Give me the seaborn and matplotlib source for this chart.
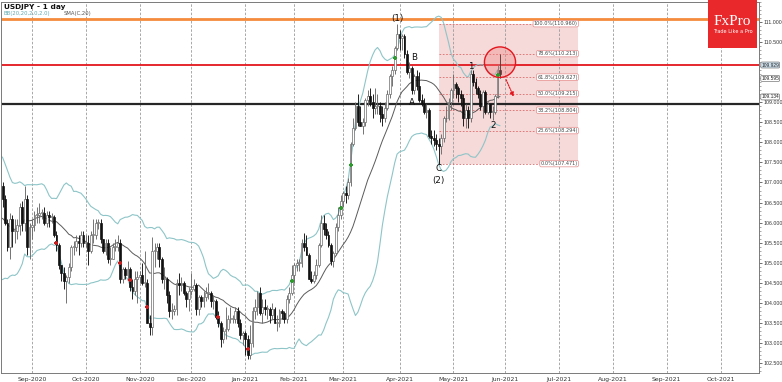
import numpy as np
import pandas as pd
import matplotlib
matplotlib.use("Agg")
import matplotlib.pyplot as plt
import seaborn as sns
from matplotlib.patches import Rectangle, Ellipse
from matplotlib.ticker import MultipleLocator

# ---------------- data ----------------
title_text = "USDJPY - 1 day"
bb_label = "BB(20,20,2.0,2.0)"
sma_label = "SMA(C,20)"
start_date = "2020-07-15"
end_date = "2021-05-28"
holidays = ["2020-12-25", "2021-01-01"]

opens = [
    # Jul 2020
    107.25, 106.95, 107.25, 107.00, 107.25, 107.20, 107.15, 106.85, 106.10, 105.40, 105.05, 105.00, 104.70,
    # Aug
    105.85, 105.95, 105.70, 105.55, 105.55, 105.90, 105.95, 106.50, 106.90, 106.90, 106.60, 106.00, 105.40, 106.10, 105.80, 105.80, 105.95, 106.40, 106.00, 106.60, 105.40,
    # Sep
    105.90, 105.95, 106.20, 106.20, 106.25, 106.25, 106.00, 106.20, 106.15, 106.15, 105.70, 105.45, 104.95, 104.75, 104.55, 104.65, 104.90, 105.40, 105.40, 105.55, 105.50, 105.70,
    # Oct
    105.50, 105.50, 105.30, 105.70, 105.70, 106.00, 106.00, 105.60, 105.30, 105.50, 105.10, 105.10, 105.40, 105.40, 105.50, 104.60, 104.85, 104.70, 104.85, 104.40, 104.30, 104.60,
    # Nov
    104.65, 104.70, 104.50, 104.50, 103.50, 103.40, 105.30, 105.30, 105.40, 105.10, 104.60, 104.60, 104.20, 103.80, 103.80, 103.85, 104.50, 104.45, 104.50, 104.25, 104.10,
    # Dec
    104.30, 104.35, 104.45, 103.85, 104.15, 104.05, 104.15, 104.25, 104.25, 104.05, 104.05, 103.65, 103.50, 103.10, 103.30, 103.35, 103.60, 103.60, 103.60, 103.80, 103.50, 103.20,
    # Jan 2021
    103.25, 103.10, 102.70, 103.00, 103.80, 103.90, 104.25, 103.75, 103.90, 103.85, 103.85, 103.70, 103.85, 103.50, 103.50, 103.80, 103.75, 103.60, 104.10, 104.25,
    # Feb
    104.70, 104.95, 105.00, 105.00, 105.50, 105.40, 105.20, 104.60, 104.55, 104.70, 104.95, 105.45, 106.00, 105.85, 105.70, 105.45, 105.05, 105.25, 105.90, 106.20,
    # Mar
    106.55, 106.75, 106.70, 107.00, 107.95, 108.35, 108.90, 108.50, 108.40, 108.50, 109.05, 109.15, 109.00, 108.85, 108.90, 108.90, 108.70, 108.60, 108.85, 109.20, 109.65, 109.80, 110.35,
    # Apr
    110.70, 110.60, 110.65, 110.20, 109.75, 109.85, 109.30, 109.65, 109.40, 109.05, 108.95, 108.75, 108.80, 108.15, 108.10, 108.05, 107.95, 107.90, 108.10, 108.60, 108.60, 109.00,
    # May
    109.30, 109.45, 109.35, 109.20, 109.10, 108.60, 108.80, 108.60, 109.70, 109.50, 109.35, 109.20, 108.90, 109.25, 108.75, 108.95, 108.75, 108.75, 109.15, 109.80,
]
highs = [
    107.30, 107.30, 107.40, 107.30, 107.40, 107.30, 107.20, 106.95, 106.20, 105.50, 105.20, 105.10, 105.90,
    106.50, 106.10, 105.80, 105.70, 106.00, 106.10, 106.60, 107.05, 107.05, 107.00, 106.70, 106.10, 106.25, 106.20, 106.10, 106.10, 106.50, 106.55, 106.90, 106.70, 106.00,
    106.10, 106.30, 106.40, 106.50, 106.35, 106.40, 106.30, 106.30, 106.25, 106.20, 105.80, 105.50, 104.95, 104.90, 104.70, 105.00, 105.45, 105.55, 105.70, 105.70, 105.80, 105.80,
    105.70, 105.70, 105.80, 106.10, 106.10, 106.10, 106.10, 105.60, 105.60, 105.60, 105.40, 105.50, 105.60, 105.70, 105.60, 104.90, 104.90, 105.05, 104.90, 104.60, 104.80, 104.80,
    104.80, 105.00, 105.30, 104.60, 103.70, 105.65, 105.50, 105.50, 105.50, 105.15, 104.90, 104.65, 104.30, 104.00, 103.95, 104.60, 104.75, 104.65, 104.55, 104.30, 104.40,
    104.75, 104.60, 104.50, 104.20, 104.20, 104.30, 104.40, 104.50, 104.30, 104.20, 104.10, 103.80, 103.55, 103.40, 103.90, 103.70, 103.90, 103.70, 103.90, 103.90, 103.60, 103.30,
    103.30, 103.20, 103.45, 103.90, 104.10, 104.30, 104.40, 104.10, 104.10, 103.95, 103.90, 104.00, 103.90, 103.70, 103.85, 103.85, 103.80, 104.20, 104.40, 104.95,
    105.00, 105.10, 105.10, 105.60, 105.75, 105.70, 105.25, 104.80, 104.80, 105.10, 105.50, 106.20, 106.20, 106.00, 105.80, 105.50, 105.30, 106.00, 106.40, 106.70,
    106.80, 106.90, 107.10, 108.00, 108.60, 109.00, 109.20, 108.90, 108.60, 109.10, 109.30, 109.35, 109.20, 109.35, 109.20, 109.00, 108.90, 109.00, 109.30, 109.70, 109.90, 110.40, 110.96,
    110.80, 110.70, 110.70, 110.30, 110.00, 109.90, 109.70, 109.80, 109.75, 109.20, 109.10, 108.95, 108.85, 108.30, 108.30, 108.20, 108.10, 108.20, 108.65, 108.90, 109.10, 109.35,
    109.70, 109.50, 109.40, 109.30, 109.20, 108.95, 108.90, 109.80, 109.80, 109.60, 109.40, 109.30, 109.30, 109.30, 109.00, 108.95, 108.90, 109.20, 109.95, 110.20,
]
lows = [
    106.70, 106.80, 106.90, 106.90, 106.95, 106.85, 106.70, 105.70, 105.20, 104.95, 104.80, 104.40, 104.20,
    105.60, 105.50, 105.30, 105.30, 105.40, 105.70, 105.80, 106.40, 106.70, 106.40, 105.95, 105.30, 105.10, 105.40, 105.50, 105.60, 105.70, 105.80, 105.80, 105.20, 105.10,
    105.60, 105.80, 106.00, 106.00, 106.10, 105.95, 105.90, 105.90, 106.00, 105.65, 105.30, 104.85, 104.55, 104.35, 104.00, 104.50, 104.80, 105.20, 105.30, 105.20, 105.40, 105.40,
    105.40, 104.95, 105.25, 105.50, 105.60, 105.85, 105.50, 105.25, 105.20, 105.00, 104.95, 105.10, 105.30, 105.30, 104.50, 104.50, 104.60, 104.60, 104.30, 104.10, 104.20, 104.00,
    104.50, 104.45, 104.40, 103.50, 103.20, 103.20, 104.90, 105.10, 104.90, 104.50, 104.35, 104.00, 103.65, 103.60, 103.70, 103.70, 104.20, 104.30, 104.20, 103.90, 103.80,
    104.20, 104.30, 103.70, 103.70, 103.90, 103.90, 104.05, 104.10, 103.90, 103.85, 103.60, 103.40, 102.90, 103.00, 103.10, 103.30, 103.50, 103.50, 103.50, 103.40, 103.10, 102.95,
    102.70, 102.60, 102.60, 102.90, 103.60, 103.70, 103.70, 103.50, 103.70, 103.60, 103.50, 103.60, 103.50, 103.30, 103.40, 103.60, 103.50, 103.50, 104.00, 104.20,
    104.50, 104.80, 104.80, 104.90, 105.30, 105.20, 104.60, 104.50, 104.50, 104.60, 104.90, 105.40, 105.70, 105.60, 105.40, 104.95, 104.90, 105.20, 105.80, 106.10,
    106.40, 106.50, 106.60, 106.90, 107.90, 108.30, 108.40, 108.40, 108.20, 108.40, 108.90, 108.90, 108.60, 108.70, 108.70, 108.50, 108.40, 108.50, 108.80, 109.10, 109.40, 109.70, 110.30,
    110.30, 110.30, 110.10, 109.70, 109.60, 109.20, 109.20, 109.30, 109.00, 108.90, 108.70, 108.60, 108.10, 107.95, 107.90, 107.80, 107.471, 107.70, 108.00, 108.50, 108.55, 108.80,
    109.10, 109.10, 109.00, 108.90, 108.40, 108.35, 108.35, 108.50, 109.40, 109.20, 109.10, 108.80, 108.60, 108.70, 108.70, 108.60, 108.55, 108.70, 109.10, 109.60,
]
closes = [
    106.95, 107.25, 107.00, 107.25, 107.20, 107.15, 106.85, 106.10, 105.40, 105.05, 105.00, 104.70, 105.85,
    105.95, 105.70, 105.55, 105.55, 105.90, 105.95, 106.50, 106.90, 106.90, 106.60, 106.00, 105.40, 106.10, 105.80, 105.80, 105.95, 106.40, 106.00, 106.60, 105.40, 105.90,
    105.95, 106.20, 106.20, 106.25, 106.25, 106.00, 106.20, 106.15, 106.15, 105.70, 105.45, 104.95, 104.75, 104.55, 104.65, 104.90, 105.40, 105.40, 105.55, 105.50, 105.70, 105.50,
    105.50, 105.30, 105.70, 105.70, 106.00, 106.00, 105.60, 105.30, 105.50, 105.10, 105.10, 105.40, 105.40, 105.50, 104.60, 104.85, 104.70, 104.85, 104.40, 104.30, 104.60, 104.65,
    104.70, 104.50, 104.50, 103.50, 103.40, 105.30, 105.30, 105.40, 105.10, 104.60, 104.60, 104.20, 103.80, 103.80, 103.85, 104.50, 104.45, 104.50, 104.25, 104.10, 104.30,
    104.35, 104.45, 103.85, 104.15, 104.05, 104.15, 104.25, 104.25, 104.05, 104.05, 103.65, 103.50, 103.10, 103.30, 103.35, 103.60, 103.60, 103.60, 103.80, 103.50, 103.20, 103.25,
    103.10, 102.70, 103.00, 103.80, 103.90, 104.25, 103.75, 103.90, 103.85, 103.85, 103.70, 103.85, 103.50, 103.50, 103.80, 103.75, 103.60, 104.10, 104.25, 104.70,
    104.95, 105.00, 105.00, 105.50, 105.40, 105.20, 104.60, 104.55, 104.70, 104.95, 105.45, 106.00, 105.85, 105.70, 105.45, 105.05, 105.25, 105.90, 106.20, 106.55,
    106.75, 106.70, 107.00, 107.95, 108.35, 108.90, 108.50, 108.40, 108.50, 109.05, 109.15, 109.00, 108.85, 108.90, 108.90, 108.70, 108.60, 108.85, 109.20, 109.65, 109.80, 110.35, 110.70,
    110.60, 110.65, 110.20, 109.75, 109.85, 109.30, 109.65, 109.40, 109.05, 108.95, 108.75, 108.80, 108.15, 108.10, 108.05, 107.95, 107.90, 108.10, 108.60, 108.60, 109.00, 109.30,
    109.45, 109.35, 109.20, 109.10, 108.60, 108.80, 108.60, 109.70, 109.50, 109.35, 109.20, 108.90, 109.25, 108.75, 108.95, 108.75, 108.75, 109.15, 109.80, 109.70,
]

# horizontal levels and annotations
orange_level = 111.07
red_level = 109.929
black_level = 108.955
axis_markers = [109.929, 109.595, 109.134]
fib_ratios = [1.0, 0.786, 0.618, 0.5, 0.382, 0.236, 0.0]
fib_start_date = "2021-04-23"
fib_end_date = "2021-07-13"
wave_texts = ["(1)", "B", "A", "C", "(2)", "1", "2"]
wave_dates = ["2021-03-31", "2021-04-09", "2021-04-08", "2021-04-23", "2021-04-23", "2021-05-12", "2021-05-25"]
wave_prices = [111.10, 110.12, 109.00, 107.36, 107.06, 109.90, 108.42]
buy_dates = ["2021-01-29", "2021-02-26", "2021-03-04", "2021-03-30", "2021-05-27"]
buy_prices = [104.55, 106.36, 107.43, 110.10, 109.68]
sell_dates = ["2020-09-15", "2020-10-21", "2020-10-27", "2020-11-05", "2020-12-16", "2021-01-05"]
sell_prices = [105.49, 104.99, 104.57, 103.89, 103.64, 102.85]
circle_date = "2021-05-28"
circle_price = 110.0
arrow_dates = ["2021-06-01", "2021-06-07"]
arrow_prices = [109.63, 109.08]
view_dates = ["2020-08-13", "2021-10-22"]
tick_months = pd.date_range("2020-09-01", "2021-10-01", freq="MS")

# ---------------- build ----------------
dates = pd.bdate_range(start_date, end_date, freq="C", holidays=holidays)
n = min(len(dates), len(opens), len(highs), len(lows), len(closes))
dates = dates[:n]
o = np.array(opens[:n]); h = np.array(highs[:n]); l = np.array(lows[:n]); c = np.array(closes[:n])
future = pd.bdate_range("2021-05-31", "2021-12-31")
cal = dates.append(future)

def pos(d):
    return int(cal.searchsorted(pd.Timestamp(d)))

x = np.arange(n)
df = pd.DataFrame({"x": x, "close": c})
df["sma"] = df["close"].rolling(20).mean()
sd = df["close"].rolling(20).std(ddof=0)
df["upper"] = df["sma"] + 2 * sd
df["lower"] = df["sma"] - 2 * sd

sns.set_theme(style="white")
plt.rcParams["font.family"] = ["DejaVu Sans"]
narrow = ["Liberation Sans", "DejaVu Sans"]

fig = plt.figure(figsize=(7.82, 3.82), dpi=100)
ax = fig.add_axes([1 / 782, 9 / 382, 758 / 782, 371 / 382])
ax.set_facecolor("white")

# Fibonacci box
fs, fe = pos(fib_start_date), pos(fib_end_date)
fib_hi = h.max()
fib_lo = l[fs:].min()
ax.add_patch(Rectangle((fs, fib_lo), fe - fs, fib_hi - fib_lo, facecolor="#f6d9d9",
                       edgecolor="none", zorder=0.5))
for r in fib_ratios:
    lvl = fib_lo + r * (fib_hi - fib_lo)
    ax.plot([fs, fe], [lvl, lvl], color="#e06868", lw=0.6, ls=(0, (2, 2)), zorder=0.8)
    ax.text(fe - 0.3, lvl, f"{r*100:.1f}%({lvl:.3f})", fontsize=3.6, ha="right", va="center",
            color="#444444", zorder=6,
            bbox=dict(boxstyle="round,pad=0.15,rounding_size=0.3", fc="white", ec="#e58b8b", lw=0.5))

# month grid
tick_pos = [pos(d) for d in tick_months]
for tp in tick_pos:
    ax.axvline(tp, color="#9a9a9a", lw=0.6, ls=(0, (3, 2)), zorder=0.7)

# horizontal levels
ax.axhline(orange_level, color="#f58b3c", lw=2.0, zorder=2)
ax.axhline(red_level, color="#e3161d", lw=1.3, zorder=2)
ax.axhline(black_level, color="#262626", lw=1.6, zorder=2)

# Bollinger bands + SMA
sns.lineplot(data=df, x="x", y="upper", ax=ax, color="#8ec5c8", lw=0.8, zorder=2.5)
sns.lineplot(data=df, x="x", y="lower", ax=ax, color="#8ec5c8", lw=0.8, zorder=2.5)
sns.lineplot(data=df, x="x", y="sma", ax=ax, color="#5a5a5a", lw=0.7, zorder=2.5)

# candles
up = c >= o
body_lo = np.minimum(o, c)
body_h = np.maximum(np.abs(c - o), 0.02)
ax.vlines(x[up], l[up], h[up], color="#6a6a6a", lw=0.65, zorder=3)
ax.vlines(x[~up], l[~up], h[~up], color="#111111", lw=0.65, zorder=3)
ax.bar(x[up], body_h[up], bottom=body_lo[up], width=0.75, color="white", edgecolor="#6a6a6a",
       linewidth=0.5, zorder=3.2)
ax.bar(x[~up], body_h[~up], bottom=body_lo[~up], width=0.75, color="#111111", edgecolor="#111111",
       linewidth=0.5, zorder=3.2)

# signals
ax.scatter([pos(d) for d in buy_dates], buy_prices, marker="P", s=9, color="#2e9a2e", zorder=4, linewidths=0)
ax.scatter([pos(d) for d in sell_dates], sell_prices, marker="P", s=9, color="#c82020", zorder=4, linewidths=0)

# circle and arrow
ax.add_patch(Ellipse((pos(circle_date), circle_price), width=12.7, height=0.76,
                     facecolor="#f08080", alpha=0.35, edgecolor="none", zorder=3.5))
ax.add_patch(Ellipse((pos(circle_date), circle_price), width=12.7, height=0.76,
                     facecolor="none", edgecolor="#e3161d", lw=1.0, zorder=3.6))
ax.annotate("", xy=(pos(arrow_dates[1]), arrow_prices[1]), xytext=(pos(arrow_dates[0]), arrow_prices[0]),
            arrowprops=dict(arrowstyle="-|>", color="#e3161d", lw=0.8, ls=(0, (1.5, 1)),
                            mutation_scale=6), zorder=5)

# wave labels
for t, d, p in zip(wave_texts, wave_dates, wave_prices):
    ax.text(pos(d), p, t, fontsize=6.3, ha="center", va="center", color="#111111", zorder=6)

# axes
ax.set_xlim(pos(view_dates[0]) + 0.35, pos(view_dates[1]) + 0.7)
ax.set_ylim(102.25, 111.5)
ax.set_xlabel(""); ax.set_ylabel("")
ax.set_xticks(tick_pos)
ax.set_xticklabels([d.strftime("%b-%Y") for d in tick_months])
yt = [v for v in np.arange(102.5, 111.01, 0.5) if min(abs(v - m) for m in axis_markers) > 0.12]
ax.yaxis.tick_right()
ax.set_yticks(yt)
ax.set_yticklabels([f"{v:.3f}" for v in yt], family=narrow)
ax.yaxis.set_minor_locator(MultipleLocator(0.1))
ax.tick_params(axis="y", which="major", labelsize=3.8, length=2.0, width=0.5, pad=1.0, colors="#333333")
ax.tick_params(axis="y", which="minor", length=1.2, width=0.4, right=True, colors="#666666")
ax.tick_params(axis="x", labelsize=4.4, length=2, width=0.5, pad=1, colors="#333333")
for s in ax.spines.values():
    s.set_color("#7a7a7a"); s.set_linewidth(0.7)
ax.grid(False)

# right axis price markers
ytr = ax.get_yaxis_transform()
for i, m in enumerate(axis_markers):
    ax.text(1.003, m, f"{m:.3f}", transform=ytr, fontsize=3.5, ha="left", va="center", color="#222222",
            clip_on=False, zorder=7, family=narrow,
            bbox=dict(boxstyle="round,pad=0.1,rounding_size=0.25",
                      fc="#cfe1ee" if i == 0 else "white", ec="#777777", lw=0.5))

# header texts
fig.text(4 / 782, 1 - 7 / 382, title_text, fontsize=5.3, fontweight="bold", color="#111111", va="center")
fig.text(4 / 782, 1 - 14 / 382, bb_label, fontsize=3.8, color="#5fa9b0", va="center")
fig.text(64 / 782, 1 - 14 / 382, sma_label, fontsize=3.8, color="#555555", va="center")

# logo
logo_ax = fig.add_axes([708 / 782, 1 - 48 / 382, 49 / 782, 48 / 382])
logo_ax.set_xlim(0, 1); logo_ax.set_ylim(0, 1)
logo_ax.add_patch(Rectangle((0, 0), 1, 1, facecolor="#e8282b", edgecolor="none"))
logo_ax.text(0.5, 0.56, "FxPro", fontsize=11, color="white", ha="center", va="center",
             family=["Liberation Serif", "DejaVu Serif"])
logo_ax.text(0.5, 0.34, "Trade Like a Pro", fontsize=3.6, color="white", ha="center", va="center")
logo_ax.axis("off")

fig.savefig("out.png", dpi=100)
